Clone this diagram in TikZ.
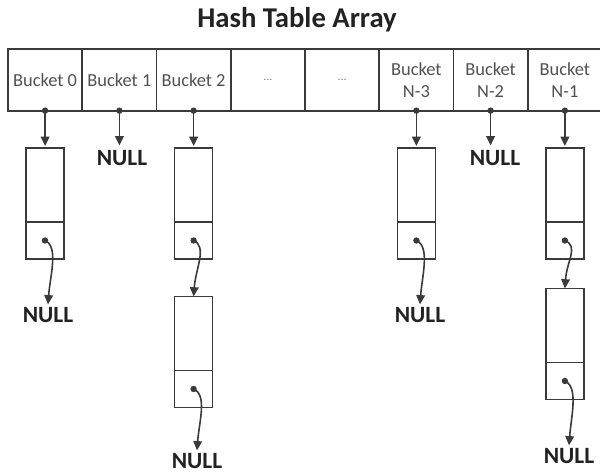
\documentclass[tikz,border=0pt]{standalone}
\usepackage{fontspec}
\setmainfont{Carlito}
\usetikzlibrary{arrows.meta}
\definecolor{linec}{HTML}{3A3A3A}
\definecolor{textc}{HTML}{505050}
\definecolor{nullc}{HTML}{222222}
\begin{document}
\begin{tikzpicture}[x=0.75pt,y=-0.75pt,
  cell/.style={draw=linec,line width=1.4pt,minimum width=55.7pt,minimum height=46pt,outer sep=0pt,
    inner sep=0pt,font=\fontsize{13.8}{16.5}\selectfont,text=textc,align=center},
  datab/.style={draw=linec,line width=1pt,minimum width=28.5pt,minimum height=55.5pt,inner sep=0pt,outer sep=0pt},
  ptrb/.style={draw=linec,line width=1pt,minimum width=28.5pt,minimum height=27.75pt,inner sep=0pt,outer sep=0pt,anchor=north},
  nullt/.style={font=\fontsize{17.5}{20}\bfseries\selectfont,text=nullc,inner sep=2pt},
  arr/.style={draw=linec,line width=1.2pt,-{Triangle[length=7pt,width=6.5pt]}},
  dotc/.style={fill=black}
]
\useasboundingbox (0,0) rectangle (600,474);

\node[font=\fontsize{21.5}{24}\bfseries\selectfont,text=nullc] (title) at (297,20) {Hash Table Array};

\node[cell] (b0) at (45.1,80) {Bucket 0};
\node[cell] (b1) at (119.4,80) {Bucket 1};
\node[cell] (b2) at (193.6,80) {Bucket 2};
\node[cell,font=\fontsize{9}{10}\selectfont,text=gray] (b3) at (267.9,80) {...};
\node[cell,font=\fontsize{9}{10}\selectfont,text=gray] (b4) at (342.1,80) {...};
\node[cell] (b5) at (416.4,80) {Bucket\\N-3};
\node[cell] (b6) at (490.6,80) {Bucket\\N-2};
\node[cell] (b7) at (564.9,80) {Bucket\\N-1};

% column 0
\node[datab] (d0) at (45,185) {};
\node[ptrb] (p0) at (d0.south) {};
\node[nullt] (n0) at (48,315) {NULL};
% column 1
\node[nullt] (n1) at (122,158) {NULL};
% column 2
\node[datab] (d2) at (193.6,185) {};
\node[ptrb] (p2) at (d2.south) {};
\node[datab] (d2b) at (193.6,333.5) {};
\node[ptrb] (p2b) at (d2b.south) {};
\node[nullt] (n2) at (197,461) {NULL};
% column N-3
\node[datab] (d5) at (416.4,185) {};
\node[ptrb] (p5) at (d5.south) {};
\node[nullt] (n5) at (420,315) {NULL};
% column N-2
\node[nullt] (n6) at (495,158) {NULL};
% column N-1
\node[datab] (d7) at (564.9,185) {};
\node[ptrb] (p7) at (d7.south) {};
\node[datab] (d7b) at (564.9,325.5) {};
\node[ptrb] (p7b) at (d7b.south) {};
\node[nullt] (n7) at (569,456) {NULL};

% vertical arrows from buckets
\foreach \b/\t in {b0/d0,b1/n1,b2/d2,b5/d5,b6/n6,b7/d7}{
  \draw[arr,shorten >=1.5pt] (\b.south) -- (\b.south |- \t.north);
  \fill[linec] (\b.south) circle (2.4pt);
}

% curved pointers
\foreach \p/\t in {p0/n0,p2/d2b,p2b/n2,p5/n5,p7/d7b,p7b/n7}{
  \draw[arr] (\p.center) .. controls +(14,6) and +(2,-28) .. (\t.north);
  \fill[linec] (\p.center) circle (2.4pt);
}
\end{tikzpicture}
\end{document}
